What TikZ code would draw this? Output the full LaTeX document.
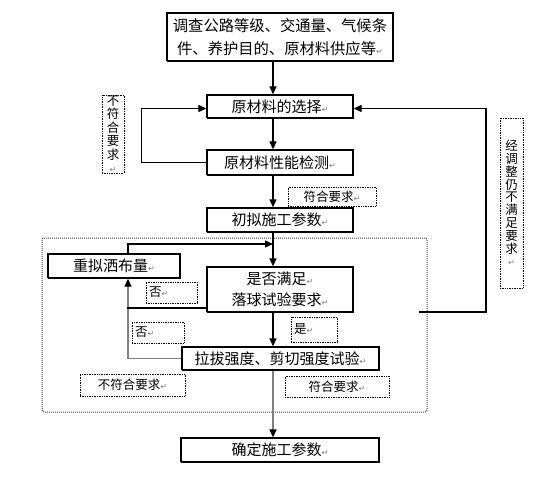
\documentclass[tikz,border=0pt]{standalone}
\usepackage{fontspec}
\usepackage{tikz}
\usetikzlibrary{arrows.meta, positioning, calc}
\newfontfamily\cjk{Noto Sans CJK SC}
\newfontfamily\symfont{DejaVu Sans}
\newcommand{\crmark}{{\color{gray}\symfont\fontsize{8}{8}\selectfont ↵}}
\tikzset{
    mainbox/.style={rectangle, draw=black, line width=1.3pt, dash pattern=on 1.6pt off 0.4pt, inner sep=1pt, text centered, align=center, fill=white, font=\cjk\fontsize{15}{22}\selectfont},
    notebox/.style={rectangle, draw=black, line width=0.7pt, densely dotted, inner sep=2pt, fill=white, font=\cjk\fontsize{12.5}{13}\selectfont},
    flow/.style={line width=1.2pt, -{Triangle[length=8pt, width=7pt]}},
    grayflow/.style={line width=1.3pt, draw=gray, -{Triangle[length=8pt, width=7pt, color=black]}},
    plainline/.style={line width=1.2pt}
}

\begin{document}
\begin{tikzpicture}[x=1pt, y=-1pt]
        \useasboundingbox (0,0) rectangle (536,479);

        % Test section boundary
        \draw[black!75, line width=1pt, densely dotted, rounded corners=2pt] (42,238) rectangle (427,412);

        % Main steps
        \node (survey) [mainbox, minimum width=226, minimum height=48, font=\cjk\fontsize{15.3}{23}\selectfont] at (280,37) {调查公路等级、交通量、气候条\\件、养护目的、原材料供应等\crmark};
        \node (select) [mainbox, minimum width=146, minimum height=23] at (280,106.5) {原材料的选择\crmark};
        \node (check) [mainbox, minimum width=146, minimum height=25] at (280,162.5) {原材料性能检测\crmark};
        \node (trial) [mainbox, minimum width=146, minimum height=24] at (280,220) {初拟施工参数\crmark};
        \node (redo) [mainbox, minimum width=132, minimum height=24] at (114,266) {重拟洒布量\crmark};
        \node (judge) [mainbox, minimum width=146, minimum height=45, font=\cjk\fontsize{15}{21}\selectfont] at (280,289.5) {是否满足\crmark\\落球试验要求\crmark};
        \node (pull) [mainbox, minimum width=197, minimum height=23] at (280.5,358.5) {拉拔强度、剪切强度试验\crmark};
        \node (final) [mainbox, minimum width=198, minimum height=24] at (280,450) {确定施工参数\crmark};

        % Notes
        \node (nofit1) [notebox, minimum width=22, minimum height=78, inner sep=0pt, align=center, font=\cjk\fontsize{12.5}{13.5}\selectfont] at (113,134) {不\\符\\合\\要\\求\\\crmark};
        \node (fit1) [notebox, minimum width=88, minimum height=19] at (332,196.5) {符合要求\crmark};
        \node (retry) [notebox, minimum width=23, minimum height=170, inner sep=0pt, align=center, font=\cjk\fontsize{12.5}{12.8}\selectfont] at (511.5,203) {经\\调\\整\\仍\\不\\满\\足\\要\\求\\\crmark};
        \node (no1) [notebox, minimum width=51, minimum height=21, text width=45, align=left] at (171.5,292.5) {否\crmark};
        \node (no2) [notebox, minimum width=52, minimum height=21, text width=46, align=left] at (158,332.5) {否\crmark};
        \node (yes) [notebox, minimum width=46, minimum height=25, text width=40, align=left] at (314,329.5) {是\crmark};
        \node (nofit2) [notebox, minimum width=105, minimum height=22] at (132.5,385) {不符合要求\crmark};
        \node (fit2) [notebox, minimum width=104, minimum height=21] at (337,386.5) {符合要求\crmark};

        % Helper points
        \coordinate (merge) at (273,244);
        \coordinate (back) at (419,312);

        % Connections
        \draw[flow] ([xshift=-7pt]survey.south) -- ([xshift=-7pt]select.north);
        \draw[flow] ([xshift=-7pt]select.south) -- ([xshift=-7pt]check.north);
        \draw[flow] ([xshift=-7pt]check.south) -- ([xshift=-7pt]trial.north);
        \draw[flow] (check.west) -- ++(-65,0) |- ([yshift=-2pt]select.west);
        \draw[flow] ([xshift=-7pt]trial.south) -- ([xshift=-7pt]judge.north);
        \draw[flow] ([xshift=14pt]redo.north) |- (merge);
        \draw[grayflow] (pull.west) -| ([xshift=14pt]redo.south);
        \draw[plainline] ([yshift=-18.5pt]judge.west) -- ++(-79,0);
        \draw[flow] ([xshift=-7pt]judge.south) -- ([xshift=-7.5pt]pull.north);
        \draw[grayflow] ([xshift=-7.5pt]pull.south) -- ([xshift=-7pt]final.north);
        \draw[flow] (back) -- ++(67,0) |- ([yshift=-2pt]select.east);
    \end{tikzpicture}
\end{document}
